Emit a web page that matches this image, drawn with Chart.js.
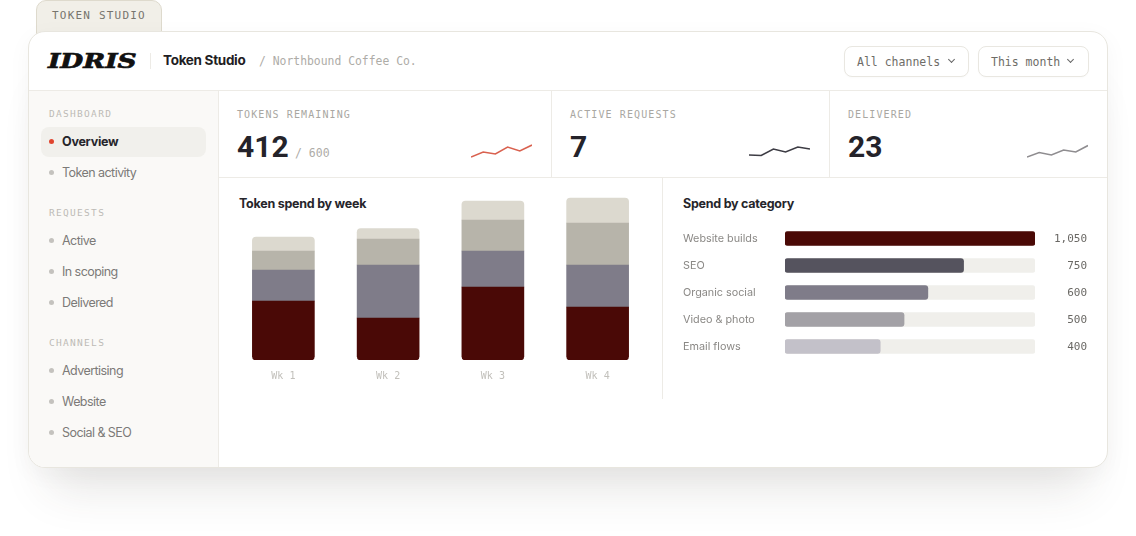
<!DOCTYPE html>
<html>
<head>
<meta charset="utf-8">
<title>Token Studio</title>
<script src="https://cdn.jsdelivr.net/npm/chart.js@4"></script>
<style>
  html, body { margin: 0; padding: 0; background: #fff; width: 1136px; height: 536px; overflow: hidden; }
  body { position: relative; font-family: Inter, sans-serif; }
  .box, .t, canvas { position: absolute; }
  .t { line-height: 16px; height: 16px; white-space: nowrap; }
  .mono { font-family: "DejaVu Sans Mono", monospace; }
  .label { font-family: "DejaVu Sans Mono", monospace; font-size: 10px; letter-spacing: 1.1px; color: #a9a7a2; }
  .side { font-family: "DejaVu Sans Mono", monospace; font-size: 9.5px; letter-spacing: 1.3px; color: #bdbbb6; left: 49px; }
  .nav { font-size: 12.5px; letter-spacing: -0.55px; color: #7c7a78; left: 62px; }
  .dot { width: 5px; height: 5px; border-radius: 50%; background: #c4c2be; left: 49px; }
  .big { font-family: Roboto, sans-serif; font-size: 30px; font-weight: 700; line-height: 36px; height: 36px; color: #24232a; }
  .head { font-size: 12.5px; font-weight: 700; letter-spacing: -0.25px; color: #26252b; }
  .line { background: #edebe6; }
  .drop { border: 1px solid #e9e7e1; border-radius: 8px; background: #fff; box-sizing: border-box; height: 31px; top: 46px; box-shadow: 0 1px 2px rgba(0,0,0,.02); }
  .drop-text { font-family: "DejaVu Sans Mono", monospace; font-size: 11.5px; color: #6e6c67; top: 54px; }
  .chev { width: 4px; height: 4px; border-right: 1.3px solid #666; border-bottom: 1.3px solid #666; transform: rotate(45deg); top: 57px; }
</style>
</head>
<body>
  <!-- tab + card -->
  <div class="box" style="left:36px;top:0;width:126px;height:36px;background:#f1efe8;border:1px solid #dedacd;border-radius:10px 10px 0 0;box-sizing:border-box"></div>
  <div class="t mono" style="left:52px;top:8px;font-size:11px;letter-spacing:1.2px;color:#77756e">TOKEN STUDIO</div>
  <div class="box" style="left:28px;top:31px;width:1080px;height:437px;background:#fff;border:1px solid #e8e6df;border-radius:17px;box-sizing:border-box;box-shadow:0 42px 44px -22px rgba(60,55,45,.13),0 6px 24px rgba(60,55,45,.04)"></div>

  <!-- sidebar -->
  <div class="box" style="left:29px;top:91px;width:190px;height:376px;background:#faf9f7;border-radius:0 0 0 16px"></div>

  <!-- dividers -->
  <div class="box line" style="left:29px;top:90px;width:1078px;height:1px"></div>
  <div class="box line" style="left:218px;top:91px;width:1px;height:376px"></div>
  <div class="box line" style="left:219px;top:177px;width:888px;height:1px"></div>
  <div class="box line" style="left:551px;top:91px;width:1px;height:86px"></div>
  <div class="box line" style="left:829px;top:91px;width:1px;height:86px"></div>
  <div class="box line" style="left:662px;top:178px;width:1px;height:221px"></div>
  <div class="box line" style="left:150px;top:53px;width:1px;height:16px"></div>

  <!-- header -->
  <div class="t" style="left:48px;top:53px;font-family:'DejaVu Serif',serif;font-weight:700;font-style:italic;font-size:20px;color:#111;-webkit-text-stroke:.7px #111;transform-origin:left center;transform:scaleX(1.32)">IDRIS</div>
  <div class="t" style="left:163px;top:52px;font-size:13.5px;font-weight:700;letter-spacing:-0.3px;color:#1f1e24">Token Studio</div>
  <div class="t mono" style="left:259px;top:53px;font-size:11.4px;color:#aeaca7">/ Northbound Coffee Co.</div>
  <div class="box drop" style="left:844px;width:125px"></div>
  <div class="t drop-text" style="left:857px">All channels</div>
  <div class="box chev" style="left:949px"></div>
  <div class="box drop" style="left:978px;width:111px"></div>
  <div class="t drop-text" style="left:991px">This month</div>
  <div class="box chev" style="left:1068px"></div>

  <!-- nav -->
  <div class="t side" style="top:106px">DASHBOARD</div>
  <div class="box" style="left:41px;top:127px;width:165px;height:30px;background:#f1f0ec;border-radius:8px"></div>
  <div class="box dot" style="top:139px;background:#e0452f"></div>
  <div class="t nav" style="top:134px;font-weight:700;color:#26252b;letter-spacing:-0.25px">Overview</div>
  <div class="box dot" style="top:170px"></div>
  <div class="t nav" style="top:165px">Token activity</div>
  <div class="t side" style="top:205px">REQUESTS</div>
  <div class="box dot" style="top:238px"></div>
  <div class="t nav" style="top:233px">Active</div>
  <div class="box dot" style="top:269px"></div>
  <div class="t nav" style="top:264px">In scoping</div>
  <div class="box dot" style="top:300px"></div>
  <div class="t nav" style="top:295px">Delivered</div>
  <div class="t side" style="top:335px">CHANNELS</div>
  <div class="box dot" style="top:368px"></div>
  <div class="t nav" style="top:363px">Advertising</div>
  <div class="box dot" style="top:399px"></div>
  <div class="t nav" style="top:394px">Website</div>
  <div class="box dot" style="top:430px"></div>
  <div class="t nav" style="top:425px">Social &amp; SEO</div>

  <!-- stat cards -->
  <div class="t label" style="left:237px;top:107px">TOKENS REMAINING</div>
  <div class="t big" style="left:237px;top:129px">412</div>
  <div class="t mono" style="left:295px;top:145px;font-size:11.5px;color:#aeaca7">/ 600</div>
  <div class="t label" style="left:570px;top:107px">ACTIVE REQUESTS</div>
  <div class="t big" style="left:570px;top:129px">7</div>
  <div class="t label" style="left:848px;top:107px">DELIVERED</div>
  <div class="t big" style="left:848px;top:129px">23</div>

  <canvas id="sparkTokens" style="left:471px;top:140px;width:61px;height:20px"></canvas>
  <canvas id="sparkActive" style="left:749px;top:140px;width:61px;height:20px"></canvas>
  <canvas id="sparkDelivered" style="left:1027px;top:140px;width:61px;height:20px"></canvas>

  <!-- charts -->
  <div class="t head" style="left:239px;top:196px">Token spend by week</div>
  <div class="t head" style="left:683px;top:196px">Spend by category</div>
  <canvas id="weekChart" style="left:231px;top:190px;width:419px;height:195px"></canvas>
  <canvas id="categoryChart" style="left:683px;top:225px;width:404px;height:135px"></canvas>

<script>
// Stacked bars
const weeks = ["Wk 1", "Wk 2", "Wk 3", "Wk 4"];
const spendA = [59, 42, 73, 53];
const spendB = [31, 53, 36, 42];
const spendC = [19, 26, 31, 42];
const spendD = [14, 10.5, 19, 25];

// Horizontal bars
const categories = ["Website builds", "SEO", "Organic social", "Video & photo", "Email flows"];
const categorySpend = [1050, 750, 600, 500, 400];
const categoryTotal = [1050, 1050, 1050, 1050, 1050];
const categoryValueLabels = ["1,050", "750", "600", "500", "400"];

// Sparklines
const sparkSteps = ["1", "2", "3", "4", "5", "6"];
const sparkTokens = [3, 8, 6, 13, 9, 15];
const sparkActive = [5, 4.5, 11, 8, 13, 11];
const sparkDelivered = [3, 7.5, 5, 10, 8, 14.5];

const MONO = "'DejaVu Sans Mono', monospace";
const SANS = "Inter, sans-serif";

function sparkline(id, values, color) {
  new Chart(document.getElementById(id), {
    type: "line",
    data: {
      labels: sparkSteps,
      datasets: [{ data: values, borderColor: color, borderWidth: 1.6, pointRadius: 0, tension: 0, clip: false }],
    },
    options: {
      responsive: false,
      animation: false,
      plugins: { legend: { display: false }, tooltip: { enabled: false } },
      scales: {
        x: { display: false, offset: false },
        y: { display: false, min: 0, max: 20 },
      },
    },
  });
}

sparkline("sparkTokens", sparkTokens, "#d9614f");
sparkline("sparkActive", sparkActive, "#3d3c44");
sparkline("sparkDelivered", sparkDelivered, "#8f8d90");

function stackSeries(values, color, radius) {
  return { data: values, backgroundColor: color, borderRadius: radius, borderSkipped: false };
}

// tick labels otherwise push the plot area in by half a label
function noLabelPadding(scale) {
  scale.paddingLeft = 0;
  scale.paddingRight = 0;
  scale.paddingTop = 0;
  scale.paddingBottom = 0;
}

new Chart(document.getElementById("weekChart"), {
  type: "bar",
  data: {
    labels: weeks,
    datasets: [
      stackSeries(spendA, "#4a0906", { bottomLeft: 4, bottomRight: 4 }),
      stackSeries(spendB, "#7f7c89", {}),
      stackSeries(spendC, "#b7b4aa", {}),
      stackSeries(spendD, "#dcd9cf", { topLeft: 4, topRight: 4 }),
    ],
  },
  options: {
    responsive: false,
    animation: false,
    plugins: { legend: { display: false }, tooltip: { enabled: false } },
    datasets: { bar: { barThickness: 62 } },
    layout: { padding: 0 },
    scales: {
      x: {
        stacked: true,
        grid: { display: false },
        border: { display: false },
        ticks: { color: "#c2c0bb", font: { family: MONO, size: 10 }, padding: 2, maxRotation: 0 },
        afterFit(scale) { scale.height = 25; noLabelPadding(scale); },
      },
      y: { stacked: true, display: false, min: 0, max: 170 },
    },
  },
});

new Chart(document.getElementById("categoryChart"), {
  type: "bar",
  data: {
    labels: categories,
    datasets: [
      { data: categorySpend, backgroundColor: ["#4a0906", "#55535e", "#7f7c89", "#a3a1a6", "#c3c1c9"], order: 1 },
      { data: categoryTotal, backgroundColor: "#f0efeb", order: 2 },
    ],
  },
  options: {
    indexAxis: "y",
    responsive: false,
    animation: false,
    plugins: { legend: { display: false }, tooltip: { enabled: false } },
    datasets: { bar: { barThickness: 14, grouped: false, borderRadius: 3, borderSkipped: false } },
    layout: { padding: 0 },
    scales: {
      x: { display: false, min: 0, max: 1050 },
      y: {
        grid: { display: false },
        border: { display: false },
        ticks: { crossAlign: "far", color: "#8a8885", font: { family: SANS, size: 10.8 }, padding: 0 },
        afterFit(scale) { scale.width = 102; noLabelPadding(scale); },
      },
      yValues: {
        type: "category",
        position: "right",
        labels: categoryValueLabels,
        grid: { display: false },
        border: { display: false },
        ticks: { crossAlign: "far", color: "#6a6864", font: { family: MONO, size: 11 }, padding: 0, labelOffset: 1 },
        afterFit(scale) { scale.width = 52; noLabelPadding(scale); },
      },
    },
  },
});
</script>
</body>
</html>
